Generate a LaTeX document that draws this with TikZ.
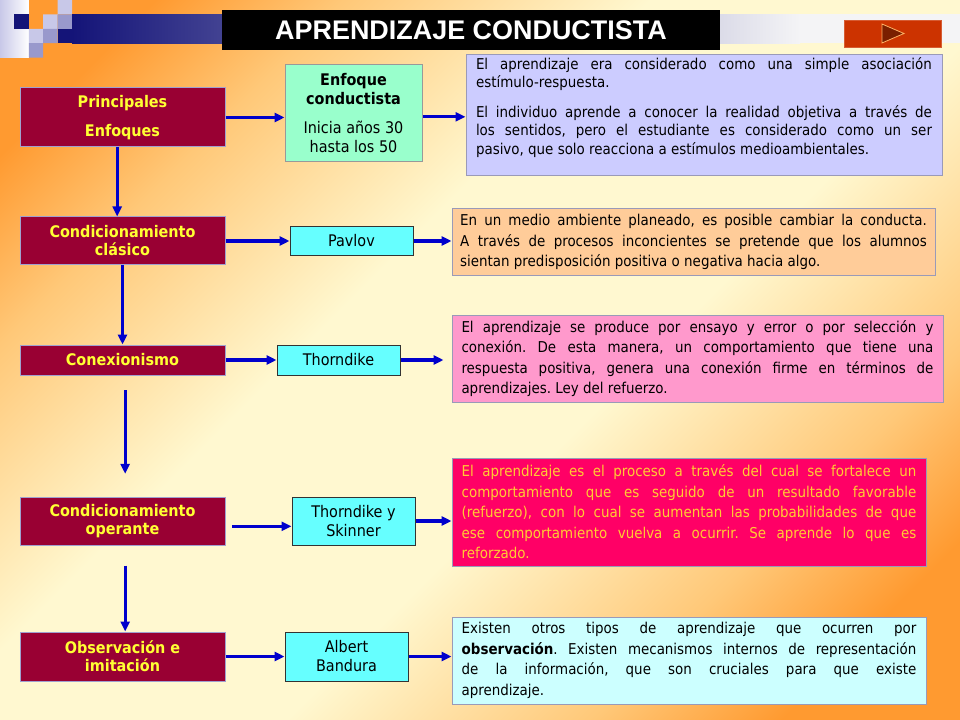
\documentclass[tikz,border=0pt]{standalone}
\usepackage{fontspec}
\setmainfont{DejaVu Sans Condensed}
\newfontfamily\titlefont{Liberation Sans}
\usepackage{xcolor}
\usepackage{tikz}
\usetikzlibrary{positioning, arrows.meta}
\definecolor{bgorange}{HTML}{FF9A30}
\definecolor{bgmid}{HTML}{FFC878}
\definecolor{bglight}{HTML}{FFF8D0}
\definecolor{navy}{HTML}{141478}
\definecolor{lilac}{HTML}{C8C8E8}
\definecolor{lilacmid}{HTML}{9999CC}
\definecolor{barend}{HTML}{F4F4F6}
\definecolor{wine}{HTML}{990033}
\definecolor{topictext}{HTML}{FFFF33}
\definecolor{topicline}{HTML}{A0A0D0}
\definecolor{enffill}{HTML}{99FFCC}
\definecolor{authorfill}{HTML}{66FFFF}
\definecolor{noteline}{HTML}{9A9AB8}
\definecolor{lavender}{HTML}{CCCCFF}
\definecolor{peach}{HTML}{FFCC99}
\definecolor{rosa}{HTML}{FF99CC}
\definecolor{crimson}{HTML}{FF0066}
\definecolor{amber}{HTML}{FFCC33}
\definecolor{icecyan}{HTML}{CCFFFF}
\definecolor{arrowblue}{HTML}{0000CC}
\definecolor{btnred}{HTML}{CC3300}
\pgfdeclareverticalshading{slidebg}{100bp}{color(0bp)=(bgorange); color(22bp)=(bgorange); color(30bp)=(bgmid); color(43bp)=(bglight); color(58bp)=(bglight); color(71bp)=(bgmid); color(79bp)=(bgorange); color(100bp)=(bgorange)}
\tikzset{
  topic/.style={
    draw=topicline, line width=0.75pt, fill=wine,
    text=topictext, font=\bfseries\fontsize{12}{13.5}\selectfont,
    align=center, minimum width=153.75pt, inner sep=2pt
  },
  author/.style={
    draw=black!80, line width=0.75pt, fill=authorfill,
    font=\fontsize{12}{14.25}\selectfont,
    align=center, minimum width=92.25pt, inner sep=2pt
  },
  note/.style={
    draw=noteline, line width=0.75pt,
    font=\fontsize{11.2}{15.4}\selectfont,
    align=justify, inner xsep=0pt, inner ysep=2pt
  },
  link/.style={
    -{Triangle[length=7.5pt,width=6.75pt]},
    line width=2.3pt, draw=arrowblue
  }
}

\begin{document}
\begin{tikzpicture}[x=0.75pt, y=-0.75pt]
  \hyphenpenalty=10000 \frenchspacing
  \useasboundingbox (0,0) rectangle (960,720);
  % slide background
  \shade[shading=slidebg, shading angle=45] (0,0) rectangle (960,720);
  \shade[left color=lilac, right color=white] (0,0) rectangle (28.8,57.6);
  \fill[navy] (14.4,14.4) rectangle (28.8,28.8);
  \fill[lilac] (57.6,0) rectangle (72,14.4) (43.2,14.4) rectangle (57.6,28.8) (28.8,28.8) rectangle (43.2,43.2);
  \fill[lilacmid] (57.6,14.4) rectangle (72,28.8) (43.2,28.8) rectangle (57.6,43.2) (28.8,43.2) rectangle (43.2,57.6);
  \fill[navy] (57.6,28.8) rectangle (72,43.2);
  \shade[left color=navy, right color=barend] (72,14.4) rectangle (800,43.2);
  \fill[barend] (799.5,14.4) rectangle (960,43.2);

  \node[fill=black, minimum width=373.5pt, minimum height=30pt, text=white,
        font=\titlefont\bfseries\fontsize{20.2}{22}\selectfont] (title) at (471,30) {APRENDIZAJE CONDUCTISTA};
  \node[fill=btnred, draw=btnred!80!white, minimum width=72.75pt, minimum height=20.25pt] (btn) at (892.5,33.5) {};
  \filldraw[fill=btnred!60!black, draw=orange!60!white, line width=0.6pt] (882,24) -- (882,43) -- (904,33.5) -- cycle;

  % left column
  \node[topic, minimum height=44.25pt] (prin) at (122.5,117.5) {Principales\\[8pt]Enfoques};
  \node[topic, minimum height=36pt] (clasico) at (122.5,241) {Condicionamiento\\clásico};
  \node[topic, minimum height=22.5pt] (conex) at (122.5,360) {Conexionismo};
  \node[topic, minimum height=36pt] (operante) at (122.5,521) {Condicionamiento\\operante};
  \node[topic, minimum height=36.75pt] (obs) at (122.5,656.5) {Observación e\\imitación};

  % middle column
  \node[author, fill=enffill, draw=black!40, minimum width=102.75pt, minimum height=72.75pt,
        right=44.25pt of prin, yshift=3pt] (enf) {\textbf{Enfoque}\\\textbf{conductista}\\[7.5pt]Inicia años 30\\hasta los 50};
  \node[author, minimum height=21.75pt, right=48pt of clasico] (pavlov) {Pavlov};
  \node[author, minimum height=22.5pt, right=38.25pt of conex] (thorn) {Thorndike};
  \node[author, minimum height=36pt, right=49.5pt of operante] (tys) {Thorndike y\\Skinner};
  \node[author, minimum height=36.75pt, right=44.25pt of obs] (band) {Albert\\Bandura};

  % right column
  \node[note, fill=lavender, text width=342pt, minimum width=357pt, minimum height=90pt,
        font=\fontsize{11.2}{13.9}\selectfont, right=32.25pt of enf, yshift=-1.1pt] (note1)
    {El aprendizaje era considerado como una simple asociación\linebreak estímulo-respuesta.\par\vspace{8pt}
     El individuo aprende a conocer la realidad objetiva a través de\linebreak los sentidos, pero el estudiante es considerado como un ser\linebreak pasivo, que solo reacciona a estímulos medioambientales.\par\rule{0pt}{9pt}};
  \node[note, fill=peach, text width=350pt, minimum width=362.25pt, minimum height=50.25pt,
        right=28.5pt of pavlov, yshift=-0.75pt] (note2)
    {En un medio ambiente planeado, es posible cambiar la conducta.\linebreak A través de procesos inconcientes se pretende que los alumnos\linebreak sientan predisposición positiva o negativa hacia algo.};
  \node[note, fill=rosa, text width=354pt, minimum width=368.25pt, minimum height=65.25pt,
        right=38.25pt of thorn, yshift=1.1pt] (note3)
    {El aprendizaje se produce por ensayo y error o por selección y\linebreak conexión. De esta manera, un comportamiento que tiene una\linebreak respuesta positiva, genera una conexión firme en términos de\linebreak aprendizajes. Ley del refuerzo.};
  \node[note, fill=crimson, text=amber, text width=341pt, minimum width=355.5pt, minimum height=81pt,
        right=27pt of tys, yshift=6.75pt] (note4)
    {El aprendizaje es el proceso a través del cual se fortalece un\linebreak comportamiento que es seguido de un resultado favorable\linebreak (refuerzo), con lo cual se aumentan las probabilidades de que\linebreak ese comportamiento vuelva a ocurrir. Se aprende lo que es\linebreak reforzado.};
  \node[note, fill=icecyan, text width=341pt, minimum width=355.5pt, minimum height=65.25pt,
        right=32.25pt of band, yshift=-3pt] (note5)
    {Existen otros tipos de aprendizaje que ocurren por\linebreak \textbf{observación}. Existen mecanismos internos de representación\linebreak de la información, que son cruciales para que existe\linebreak aprendizaje.};

  % connectors
  \draw[link] ([xshift=-4pt]prin.south) -- ([xshift=-4pt]clasico.north);
  \draw[link] (clasico.south) -- (conex.north);
  \draw[link, shorten <=11pt, shorten >=17pt] ([xshift=2pt]conex.south) -- ([xshift=2pt]operante.north);
  \draw[link, shorten <=15pt] ([xshift=2pt]operante.south) -- ([xshift=2pt]obs.north);
  \draw[link] (prin.east) -- (prin.east -| enf.west);
  \draw[link] ([yshift=-2.5pt]enf.east) -- ([yshift=-2.5pt]enf.east -| note1.west);
  \draw[link] (clasico.east) -- (clasico.east -| pavlov.west);
  \draw[link] (pavlov.east) -- (pavlov.east -| note2.west);
  \draw[link] (conex.east) -- (conex.east -| thorn.west);
  \draw[link, shorten >=6pt] (thorn.east) -- (thorn.east -| note3.west);
  \draw[link, shorten <=5pt] ([yshift=-4pt]operante.east) -- ([yshift=-4pt]operante.east -| tys.west);
  \draw[link] (tys.east) -- (tys.east -| note4.west);
  \draw[link] (obs.east) -- (obs.east -| band.west);
  \draw[link] (band.east) -- (band.east -| note5.west);
\end{tikzpicture}
\end{document}
